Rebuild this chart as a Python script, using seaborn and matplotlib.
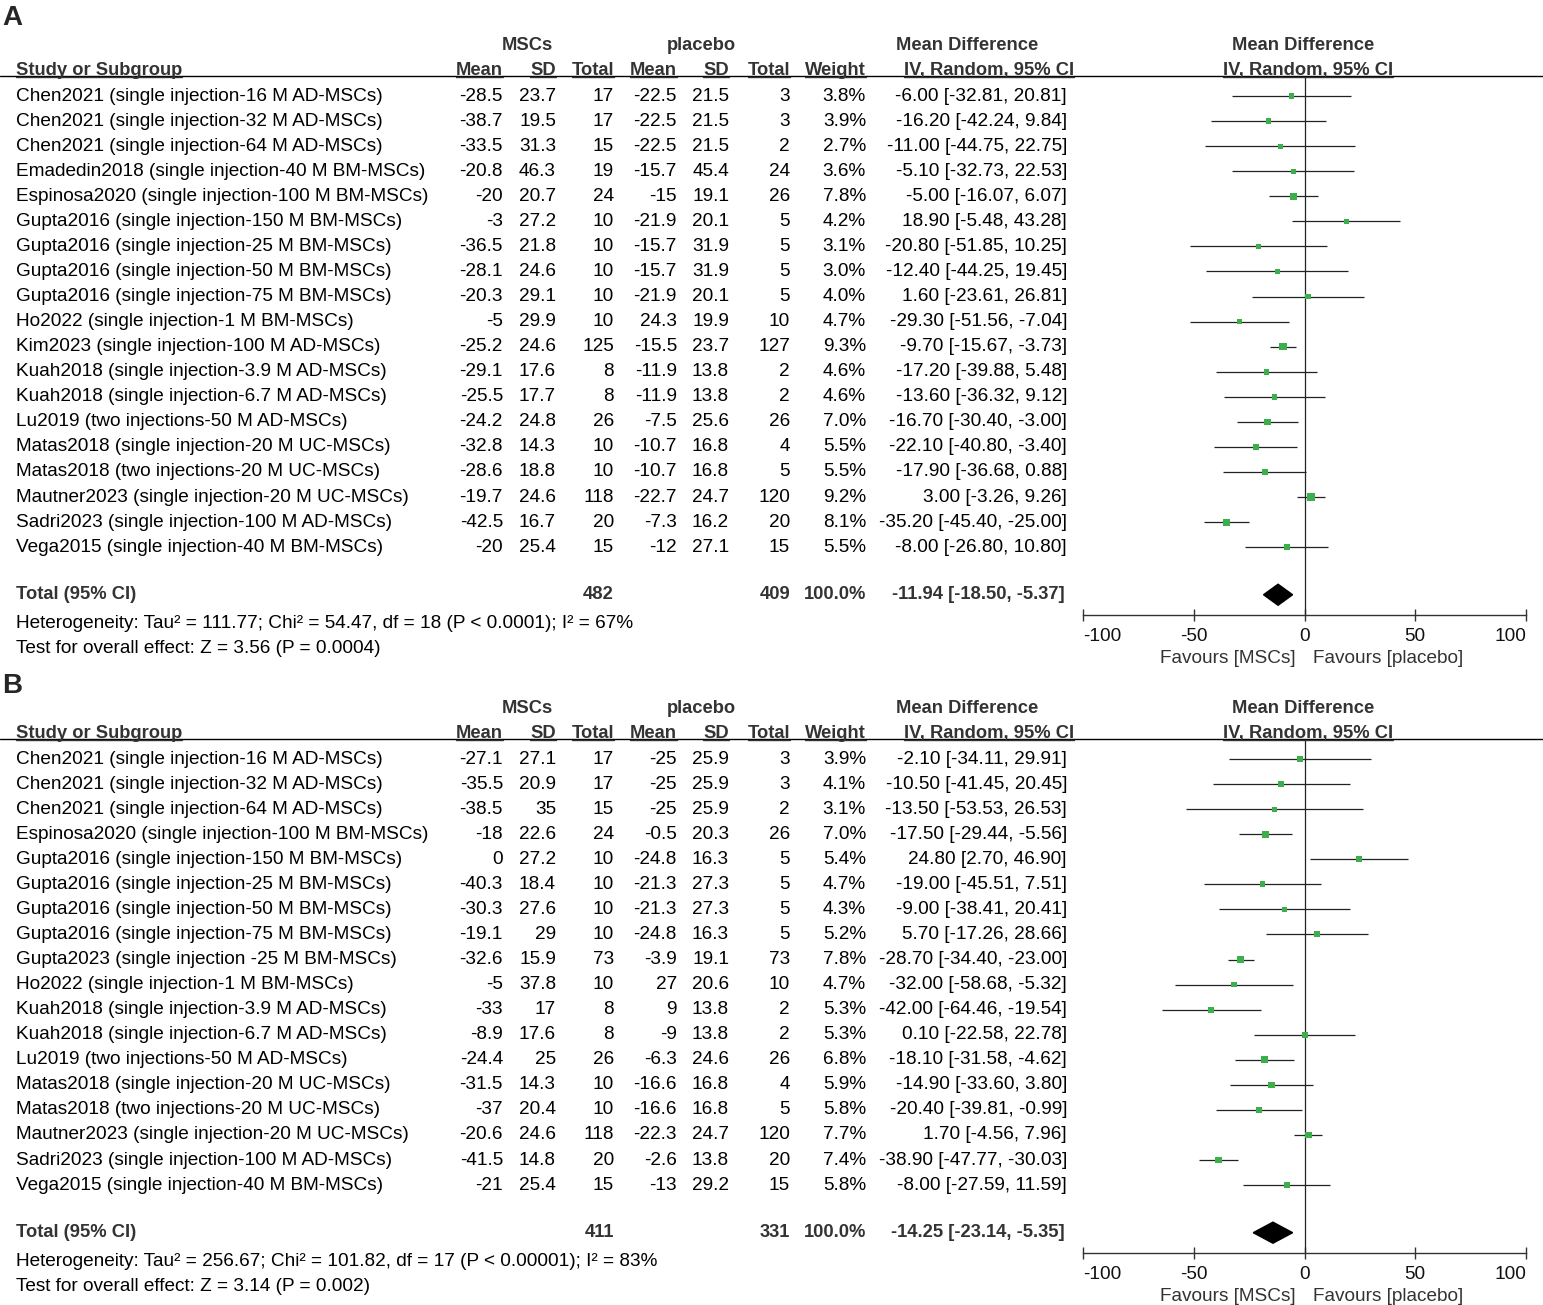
import numpy as np
import pandas as pd
import matplotlib.pyplot as plt
import matplotlib.transforms as mtransforms
from matplotlib.lines import Line2D
import seaborn as sns

# -------------------------------
# Panel A data
# -------------------------------
studies_a = [
    "Chen2021 (single injection-16 M AD-MSCs)",
    "Chen2021 (single injection-32 M AD-MSCs)",
    "Chen2021 (single injection-64 M AD-MSCs)",
    "Emadedin2018 (single injection-40 M BM-MSCs)",
    "Espinosa2020 (single injection-100 M BM-MSCs)",
    "Gupta2016 (single injection-150 M BM-MSCs)",
    "Gupta2016 (single injection-25 M BM-MSCs)",
    "Gupta2016 (single injection-50 M BM-MSCs)",
    "Gupta2016 (single injection-75 M BM-MSCs)",
    "Ho2022 (single injection-1 M BM-MSCs)",
    "Kim2023 (single injection-100 M AD-MSCs)",
    "Kuah2018 (single injection-3.9 M AD-MSCs)",
    "Kuah2018 (single injection-6.7 M AD-MSCs)",
    "Lu2019 (two injections-50 M AD-MSCs)",
    "Matas2018 (single injection-20 M UC-MSCs)",
    "Matas2018 (two injections-20 M UC-MSCs)",
    "Mautner2023 (single injection-20 M UC-MSCs)",
    "Sadri2023 (single injection-100 M AD-MSCs)",
    "Vega2015 (single injection-40 M BM-MSCs)",
]
msc_mean_a = [-28.5, -38.7, -33.5, -20.8, -20, -3, -36.5, -28.1, -20.3, -5,
              -25.2, -29.1, -25.5, -24.2, -32.8, -28.6, -19.7, -42.5, -20]
msc_sd_a = [23.7, 19.5, 31.3, 46.3, 20.7, 27.2, 21.8, 24.6, 29.1, 29.9,
            24.6, 17.6, 17.7, 24.8, 14.3, 18.8, 24.6, 16.7, 25.4]
msc_n_a = [17, 17, 15, 19, 24, 10, 10, 10, 10, 10, 125, 8, 8, 26, 10, 10, 118, 20, 15]
pla_mean_a = [-22.5, -22.5, -22.5, -15.7, -15, -21.9, -15.7, -15.7, -21.9, 24.3,
              -15.5, -11.9, -11.9, -7.5, -10.7, -10.7, -22.7, -7.3, -12]
pla_sd_a = [21.5, 21.5, 21.5, 45.4, 19.1, 20.1, 31.9, 31.9, 20.1, 19.9,
            23.7, 13.8, 13.8, 25.6, 16.8, 16.8, 24.7, 16.2, 27.1]
pla_n_a = [3, 3, 2, 24, 26, 5, 5, 5, 5, 10, 127, 2, 2, 26, 4, 5, 120, 20, 15]
weight_a = [3.8, 3.9, 2.7, 3.6, 7.8, 4.2, 3.1, 3.0, 4.0, 4.7, 9.3, 4.6, 4.6, 7.0, 5.5, 5.5, 9.2, 8.1, 5.5]
md_a = [-6.00, -16.20, -11.00, -5.10, -5.00, 18.90, -20.80, -12.40, 1.60, -29.30,
        -9.70, -17.20, -13.60, -16.70, -22.10, -17.90, 3.00, -35.20, -8.00]
ci_lo_a = [-32.81, -42.24, -44.75, -32.73, -16.07, -5.48, -51.85, -44.25, -23.61, -51.56,
           -15.67, -39.88, -36.32, -30.40, -40.80, -36.68, -3.26, -45.40, -26.80]
ci_hi_a = [20.81, 9.84, 22.75, 22.53, 6.07, 43.28, 10.25, 19.45, 26.81, -7.04,
           -3.73, 5.48, 9.12, -3.00, -3.40, 0.88, 9.26, -25.00, 10.80]
total_n_a = [482, 409]
total_ci_a = [-11.94, -18.50, -5.37]
het_a = "Heterogeneity: Tau\u00b2 = 111.77; Chi\u00b2 = 54.47, df = 18 (P < 0.0001); I\u00b2 = 67%"
test_a = "Test for overall effect: Z = 3.56 (P = 0.0004)"

# -------------------------------
# Panel B data
# -------------------------------
studies_b = [
    "Chen2021 (single injection-16 M AD-MSCs)",
    "Chen2021 (single injection-32 M AD-MSCs)",
    "Chen2021 (single injection-64 M AD-MSCs)",
    "Espinosa2020 (single injection-100 M BM-MSCs)",
    "Gupta2016 (single injection-150 M BM-MSCs)",
    "Gupta2016 (single injection-25 M BM-MSCs)",
    "Gupta2016 (single injection-50 M BM-MSCs)",
    "Gupta2016 (single injection-75 M BM-MSCs)",
    "Gupta2023 (single injection -25 M BM-MSCs)",
    "Ho2022 (single injection-1 M BM-MSCs)",
    "Kuah2018 (single injection-3.9 M AD-MSCs)",
    "Kuah2018 (single injection-6.7 M AD-MSCs)",
    "Lu2019 (two injections-50 M AD-MSCs)",
    "Matas2018 (single injection-20 M UC-MSCs)",
    "Matas2018 (two injections-20 M UC-MSCs)",
    "Mautner2023 (single injection-20 M UC-MSCs)",
    "Sadri2023 (single injection-100 M AD-MSCs)",
    "Vega2015 (single injection-40 M BM-MSCs)",
]
msc_mean_b = [-27.1, -35.5, -38.5, -18, 0, -40.3, -30.3, -19.1, -32.6, -5,
              -33, -8.9, -24.4, -31.5, -37, -20.6, -41.5, -21]
msc_sd_b = [27.1, 20.9, 35, 22.6, 27.2, 18.4, 27.6, 29, 15.9, 37.8,
            17, 17.6, 25, 14.3, 20.4, 24.6, 14.8, 25.4]
msc_n_b = [17, 17, 15, 24, 10, 10, 10, 10, 73, 10, 8, 8, 26, 10, 10, 118, 20, 15]
pla_mean_b = [-25, -25, -25, -0.5, -24.8, -21.3, -21.3, -24.8, -3.9, 27,
              9, -9, -6.3, -16.6, -16.6, -22.3, -2.6, -13]
pla_sd_b = [25.9, 25.9, 25.9, 20.3, 16.3, 27.3, 27.3, 16.3, 19.1, 20.6,
            13.8, 13.8, 24.6, 16.8, 16.8, 24.7, 13.8, 29.2]
pla_n_b = [3, 3, 2, 26, 5, 5, 5, 5, 73, 10, 2, 2, 26, 4, 5, 120, 20, 15]
weight_b = [3.9, 4.1, 3.1, 7.0, 5.4, 4.7, 4.3, 5.2, 7.8, 4.7, 5.3, 5.3, 6.8, 5.9, 5.8, 7.7, 7.4, 5.8]
md_b = [-2.10, -10.50, -13.50, -17.50, 24.80, -19.00, -9.00, 5.70, -28.70, -32.00,
        -42.00, 0.10, -18.10, -14.90, -20.40, 1.70, -38.90, -8.00]
ci_lo_b = [-34.11, -41.45, -53.53, -29.44, 2.70, -45.51, -38.41, -17.26, -34.40, -58.68,
           -64.46, -22.58, -31.58, -33.60, -39.81, -4.56, -47.77, -27.59]
ci_hi_b = [29.91, 20.45, 26.53, -5.56, 46.90, 7.51, 20.41, 28.66, -23.00, -5.32,
           -19.54, 22.78, -4.62, 3.80, -0.99, 7.96, -30.03, 11.59]
total_n_b = [411, 331]
total_ci_b = [-14.25, -23.14, -5.35]
het_b = "Heterogeneity: Tau\u00b2 = 256.67; Chi\u00b2 = 101.82, df = 17 (P < 0.00001); I\u00b2 = 83%"
test_b = "Test for overall effect: Z = 3.14 (P = 0.002)"

xticks = [-100, -50, 0, 50, 100]

# -------------------------------
# Layout (pixels)
# -------------------------------
W, H = 1543, 1305
ROW = 25.06
X0, X1 = 1083, 1526
FS = 13.7
FSB = 13.2
GREEN = "#3cae4c"
HEAD = "#333333"

sns.set_theme(style="white")
plt.rcParams["font.family"] = ["Liberation Sans", "DejaVu Sans"]

fig = plt.figure(figsize=(W / 100, H / 100), dpi=100)
underlined = []


def fmt(v):
    return "{:g}".format(v)


def draw_panel(letter, letter_px, top_px, df, totals_n, totals_ci, het, test):
    n = len(df)
    top_row = -0.8
    bottom_row = n + 1.7
    bot_px = top_px + (bottom_row - top_row) * ROW
    ax = fig.add_axes([X0 / W, 1 - bot_px / H, (X1 - X0) / W, (bot_px - top_px) / H])
    ax.patch.set_alpha(0)

    tr = mtransforms.blended_transform_factory(fig.transFigure, ax.transData)

    def put(px, y, s, ha="right", bold=False, color="black"):
        return ax.text(px / W, y, s, transform=tr, ha=ha, va="center",
                       fontsize=FSB if bold else FS,
                       fontweight="bold" if bold else "normal", color=color, clip_on=False)

    fig.text(2 / W, 1 - letter_px / H, letter, fontsize=20, fontweight="bold",
             ha="left", va="center")

    # header
    h1 = -2.0
    put(527, h1, "MSCs", ha="center", bold=True, color=HEAD)
    put(701, h1, "placebo", ha="center", bold=True, color=HEAD)
    put(967, h1, "Mean Difference", ha="center", bold=True, color=HEAD)
    put(1303, h1, "Mean Difference", ha="center", bold=True, color=HEAD)
    hy = -1.02
    underlined.append(put(16, hy, "Study or Subgroup", ha="left", bold=True, color=HEAD))
    for px, s in [(503, "Mean"), (556, "SD"), (614, "Total"), (677, "Mean"),
                  (729, "SD"), (790, "Total"), (866, "Weight"), (1074, "IV, Random, 95% CI")]:
        underlined.append(put(px, hy, s, bold=True, color=HEAD))
    underlined.append(put(1308, hy, "IV, Random, 95% CI", ha="center", bold=True, color=HEAD))
    ax.plot([0, 1], [top_row, top_row], transform=tr, color="black", lw=1, clip_on=False)

    # study rows
    for i, r in df.iterrows():
        put(16, i, r["study"], ha="left")
        put(503, i, fmt(r["msc_mean"]))
        put(556, i, fmt(r["msc_sd"]))
        put(614, i, fmt(r["msc_n"]))
        put(677, i, fmt(r["pla_mean"]))
        put(729, i, fmt(r["pla_sd"]))
        put(790, i, fmt(r["pla_n"]))
        put(866, i, "{:.1f}%".format(r["weight"]))
        put(1067, i, "{:.2f} [{:.2f}, {:.2f}]".format(r["md"], r["lo"], r["hi"]))

    # total row
    ty = n + 0.9
    put(16, ty, "Total (95% CI)", ha="left", bold=True, color=HEAD)
    put(614, ty, str(totals_n[0]), bold=True, color=HEAD)
    put(790, ty, str(totals_n[1]), bold=True, color=HEAD)
    put(866, ty, "100.0%", bold=True, color=HEAD)
    put(1065, ty, "{:.2f} [{:.2f}, {:.2f}]".format(*totals_ci), bold=True, color=HEAD)
    put(16, n + 2.05, het, ha="left")
    put(16, n + 3.05, test, ha="left")

    # forest
    ax.hlines(df["row"], df["lo"], df["hi"], color="#222222", lw=0.9, zorder=2)
    sns.scatterplot(data=df, x="md", y="row", size="weight", sizes=(6, 30),
                    size_norm=(0, 10), marker="s", color=GREEN, linewidth=0,
                    legend=False, ax=ax, zorder=3)
    m, lo, hi = totals_ci
    ax.fill([lo, m, hi, m], [ty, ty - 0.42, ty, ty + 0.42], color="black", zorder=3)
    ax.axvline(0, color="#222222", lw=0.9, zorder=1)

    ax.set_xlim(-100, 100)
    ax.set_ylim(bottom_row, top_row)
    ax.set_xlabel("")
    ax.set_ylabel("")
    ax.set_yticks([])
    ax.set_xticks(xticks)
    labels = ax.set_xticklabels([str(t) for t in xticks])
    labels[0].set_ha("left")
    labels[-1].set_ha("right")
    for side in ["top", "left", "right"]:
        ax.spines[side].set_visible(False)
    ax.spines["bottom"].set_color("#333333")
    ax.spines["bottom"].set_linewidth(1)
    ax.tick_params(axis="x", direction="inout", length=9, width=1, color="#333333",
                   labelsize=FS, labelcolor="#111111", pad=5, bottom=True)
    ax.text(-4, n + 3.43, "Favours [MSCs]", ha="right", va="center", fontsize=FS, color=HEAD)
    ax.text(4, n + 3.43, "Favours [placebo]", ha="left", va="center", fontsize=FS, color=HEAD)
    return ax


def make_df(studies, mm, ms, mn, pm, ps, pn, w, md, lo, hi):
    return pd.DataFrame({
        "study": studies, "msc_mean": mm, "msc_sd": ms, "msc_n": mn,
        "pla_mean": pm, "pla_sd": ps, "pla_n": pn, "weight": w,
        "md": md, "lo": lo, "hi": hi, "row": np.arange(len(studies)),
    })


df_a = make_df(studies_a, msc_mean_a, msc_sd_a, msc_n_a, pla_mean_a, pla_sd_a, pla_n_a,
               weight_a, md_a, ci_lo_a, ci_hi_a)
df_b = make_df(studies_b, msc_mean_b, msc_sd_b, msc_n_b, pla_mean_b, pla_sd_b, pla_n_b,
               weight_b, md_b, ci_lo_b, ci_hi_b)

draw_panel("A", 18, 76, df_a, total_n_a, total_ci_a, het_a, test_a)
draw_panel("B", 686, 739, df_b, total_n_b, total_ci_b, het_b, test_b)

# underline the column headings
fig.canvas.draw()
inv = fig.transFigure.inverted()
for t in underlined:
    bb = t.get_window_extent()
    (x0, y0), (x1, _) = inv.transform([[bb.x0, bb.y0 + 2], [bb.x1, bb.y0 + 2]])
    fig.add_artist(Line2D([x0, x1], [y0, y0], transform=fig.transFigure,
                          color=HEAD, lw=1))

plt.savefig("out.png", dpi=100)
